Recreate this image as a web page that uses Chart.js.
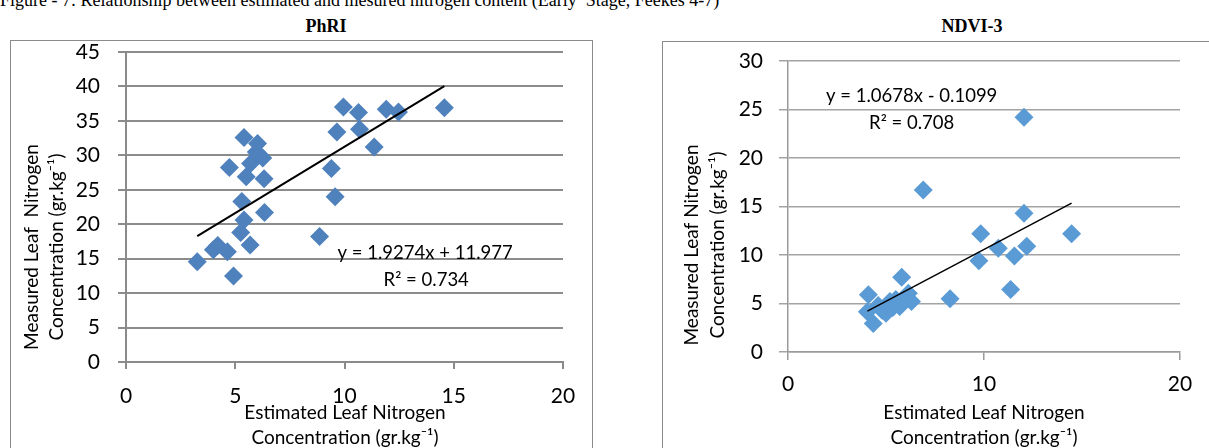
<!DOCTYPE html>
<html>
<head>
<meta charset="utf-8">
<script src="https://cdn.jsdelivr.net/npm/chart.js@4"></script>
<style>
  html, body { margin: 0; padding: 0; background: #fff; }
  body { width: 1209px; height: 448px; position: relative; overflow: hidden; }
  .caption { position: absolute; left: 0; top: -9px; font: 18px "Liberation Serif", serif; line-height: 18px; white-space: pre; color: #000; }
  .ctitle { position: absolute; top: 16px; font: bold 18px "Liberation Serif", serif; color: #000; transform: translateX(-50%); white-space: nowrap; }
  .box { position: absolute; border: 1.5px solid #8a8a8a; }
  canvas { position: absolute; top: 0; }
</style>
</head>
<body>
<div class="caption">Figure - 7: Relationship between estimated and mesured nitrogen content (Early  Stage, Feekes 4-7)</div>
<div class="ctitle" style="left:326px">PhRI</div>
<div class="ctitle" style="left:972px">NDVI-3</div>
<div class="box" style="left:10px; top:40px; width:581px; height:420px;"></div>
<div class="box" style="left:662px; top:41px; width:600px; height:420px;"></div>
<canvas id="c1" width="600" height="448" style="left:0px"></canvas>
<canvas id="c2" width="609" height="448" style="left:600px"></canvas>
<script>
// ---------------- data ----------------
const phriEstimated = [3.26, 4.0, 4.2, 4.64, 4.92, 5.68, 5.25, 5.4, 5.3, 6.34, 4.73, 5.5, 6.32, 5.7, 6.26, 5.96, 6.02, 5.4, 8.86, 9.57, 9.4, 9.65, 9.95, 10.64, 10.69, 11.36, 11.91, 12.47, 14.57];
const phriMeasured  = [14.56, 16.3, 16.9, 16.0, 12.5, 17.0, 18.8, 20.6, 23.3, 21.7, 28.25, 26.9, 26.6, 28.8, 29.6, 30.5, 31.7, 32.6, 18.2, 24.0, 28.1, 33.4, 37.0, 36.2, 33.8, 31.2, 36.7, 36.3, 36.9];
const phriSlope = 1.9274, phriIntercept = 11.977;
const phriEquation = "y = 1.9274x + 11.977";
const phriR2 = "R² = 0.734";

const ndviEstimated = [12.04, 6.9, 12.04, 9.83, 14.47, 10.73, 12.18, 11.55, 9.74, 11.36, 8.27, 5.8, 4.1, 4.05, 4.35, 5.0, 5.2, 5.7, 6.14, 6.3, 4.6, 5.5, 5.95, 4.8, 5.35];
const ndviMeasured  = [24.2, 16.7, 14.3, 12.2, 12.2, 10.7, 10.9, 9.9, 9.4, 6.45, 5.5, 7.7, 5.9, 4.15, 2.95, 4.0, 5.2, 4.7, 6.05, 5.2, 4.8, 5.4, 5.6, 4.3, 4.6];
const ndviSlope = 1.0678, ndviIntercept = -0.1099;
const ndviEquation = "y = 1.0678x - 0.1099";
const ndviR2 = "R² = 0.708";

const phriYTicks = {min: 0, max: 45, step: 5};
const phriXTicks = {min: 0, max: 20, step: 5};
const ndviYTicks = {min: 0, max: 30, step: 5};
const ndviXTicks = {min: 0, max: 20, step: 10};

const yTitle1 = ["Measured Leaf  Nitrogen", "Concentration (gr.kg\u207B\u00B9)"];
const yTitle2 = ["Measured Leaf Nitrogen", "Concentration (gr.kg\u207B\u00B9)"];
const xTitle = ["Estimated Leaf Nitrogen", "Concentration (gr.kg\u207B\u00B9)"];

// ---------------- helpers ----------------
const FONT = "Lato, 'Open Sans', sans-serif";
function pts(xs, ys) { return xs.map((x, i) => ({x: x, y: ys[i]})); }
function trend(xs, m, b) {
  const lo = Math.min(...xs), hi = Math.max(...xs);
  return [{x: lo, y: m * lo + b}, {x: hi, y: m * hi + b}];
}

function makeChart(id, cfg) {
  const textPlugin = {
    id: 'texts',
    afterDraw(chart) {
      const ctx = chart.ctx;
      const xs = chart.scales.x, ys = chart.scales.y;
      ctx.save();
      ctx.fillStyle = '#000';
      ctx.textAlign = 'center';
      ctx.textBaseline = 'middle';
      // equation
      ctx.font = "18.5px " + FONT;
      ctx.fillText(cfg.eq, xs.getPixelForValue(cfg.eqPos[0]), ys.getPixelForValue(cfg.eqPos[1]));
      ctx.fillText(cfg.r2, xs.getPixelForValue(cfg.r2Pos[0]), ys.getPixelForValue(cfg.r2Pos[1]));
      // axis titles
      ctx.font = "19px " + FONT;
      ctx.fillText(xTitle[0], cfg.xTitleX, cfg.xTitleY[0]);
      ctx.fillText(xTitle[1], cfg.xTitleX, cfg.xTitleY[1]);
      for (let i = 0; i < 2; i++) {
        ctx.save();
        ctx.translate(cfg.yTitleX[i], cfg.yTitleY);
        ctx.rotate(-Math.PI / 2);
        ctx.fillText(cfg.yTitle[i], 0, 0);
        ctx.restore();
      }
      ctx.restore();
    }
  };
  return new Chart(document.getElementById(id), {
    type: 'scatter',
    data: {
      datasets: [
        {
          data: trend(cfg.xs, cfg.m, cfg.b),
          showLine: true, borderColor: '#000', borderWidth: cfg.lineW, pointRadius: 0, fill: false
        },
        {
          data: pts(cfg.xs, cfg.ys),
          pointStyle: 'rectRot', pointRadius: cfg.r, pointHoverRadius: cfg.r,
          backgroundColor: cfg.color, borderColor: cfg.color, borderWidth: 0
        }
      ]
    },
    options: {
      responsive: false, animation: false, devicePixelRatio: 1,
      events: [],
      layout: { padding: cfg.padding },
      plugins: { legend: {display: false}, tooltip: {enabled: false}, title: {display: false} },
      scales: {
        x: {
          type: 'linear', min: cfg.xt.min, max: cfg.xt.max,
          ticks: { stepSize: cfg.xt.step, color: '#000', font: {family: FONT, size: 21}, padding: cfg.xPad, maxRotation: 0 },
          grid: { drawOnChartArea: false, drawTicks: true, tickLength: cfg.xTick, color: cfg.axisColor, lineWidth: cfg.axisW },
          border: { display: true, color: cfg.axisColor, width: cfg.axisW },
          afterFit(s) { s.height = cfg.xH; s.paddingLeft = 0; s.paddingRight = 0; }
        },
        y: {
          type: 'linear', min: cfg.yt.min, max: cfg.yt.max,
          ticks: { stepSize: cfg.yt.step, color: '#000', font: {family: FONT, size: 21}, padding: cfg.yPad },
          grid: { drawOnChartArea: true, drawTicks: true, tickLength: cfg.yTick, color: cfg.gridColor, lineWidth: cfg.gridW },
          border: { display: true, color: cfg.axisColor, width: cfg.axisW },
          afterFit(s) { s.width = cfg.yW; s.paddingTop = 0; s.paddingBottom = 0; }
        }
      }
    },
    plugins: [textPlugin]
  });
}

makeChart('c1', {
  xs: phriEstimated, ys: phriMeasured, m: phriSlope, b: phriIntercept,
  eq: phriEquation, r2: phriR2, eqPos: [13.69, 15.82], r2Pos: [13.74, 11.9],
  color: '#4F81BD', r: 9.5, lineW: 2,
  padding: {top: 52, right: 37, bottom: 0, left: 0},
  xt: phriXTicks, yt: phriYTicks, xH: 86, yW: 126,
  xPad: 15, yPad: 18, xTick: 7, yTick: 8,
  axisColor: '#8a8a8a', axisW: 2, gridColor: '#8c8c8c', gridW: 2,
  xTitleX: 345, xTitleY: [413, 438], yTitleX: [32, 57], yTitleY: 247, yTitle: yTitle1
});

makeChart('c2', {
  xs: ndviEstimated, ys: ndviMeasured, m: ndviSlope, b: ndviIntercept,
  eq: ndviEquation, r2: ndviR2, eqPos: [6.31, 26.39], r2Pos: [6.31, 23.64],
  color: '#5B9BD5', r: 9.5, lineW: 1.5,
  padding: {top: 61, right: 29, bottom: 0, left: 0},
  xt: ndviXTicks, yt: ndviYTicks, xH: 96, yW: 188,
  xPad: 12, yPad: 16, xTick: 8, yTick: 9,
  axisColor: '#9a9a9a', axisW: 1.5, gridColor: '#a3a3a3', gridW: 1.5,
  xTitleX: 384, xTitleY: [413, 438], yTitleX: [92, 118], yTitleY: 245, yTitle: yTitle2
});
</script>
</body>
</html>
